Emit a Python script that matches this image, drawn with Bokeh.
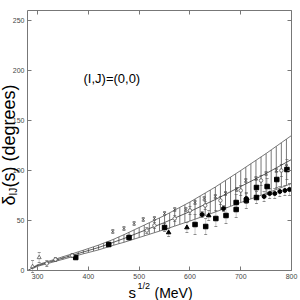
import numpy as np
from bokeh.plotting import figure
from bokeh.models import ColumnDataSource, Whisker, TeeHead, Label, LinearAxis, FixedTicker, Range1d
from bokeh.embed import file_html
from bokeh.resources import INLINE

# ---- data ----
x_ticks = [300, 400, 500, 600, 700, 800]
y_ticks = [0, 50, 100, 150, 200, 250]

band_x = [290, 300, 310, 320, 330, 340, 350, 360, 370, 380, 390, 400, 410, 420, 430, 440, 450,
          460, 470, 480, 490, 500, 510, 520, 530, 540, 550, 560, 570, 580, 590, 600, 610, 620,
          630, 640, 650, 660, 670, 680, 690, 700, 710, 720, 730, 740, 750, 760, 770, 780, 790, 800]
band_c = [2.5, 5, 6.5, 8, 9.5, 11, 12.5, 14, 15.5, 17, 18.5, 20, 21.5, 23, 24.8, 26.5, 28.3,
          30.2, 32, 34, 36, 38, 40, 42, 44, 46, 48, 50.2, 52.4, 54.6, 56.8, 59, 61.4, 63.8,
          66.2, 68.6, 71, 73.6, 76.2, 78.8, 81.4, 84, 86.6, 89.2, 91.8, 94.4, 97, 99.8, 102.6,
          105.4, 108.2, 111]
band_h = [0.5, 0.8, 0.9, 1, 1.1, 1.2, 1.3, 1.4, 1.5, 1.7, 1.8, 2, 2.2, 2.4, 2.6, 2.8, 3,
          3.4, 3.8, 4.2, 4.6, 5, 5.4, 5.8, 6.2, 6.6, 7, 7.5, 8, 8.5, 9, 9.5, 10.1, 10.7,
          11.3, 11.9, 12.5, 13.2, 13.9, 14.6, 15.3, 16, 16.8, 17.6, 18.4, 19.2, 20, 20.8, 21.6,
          22.4, 23.2, 24]

bow_x = [448, 470, 490, 508, 530, 550, 570, 592, 610, 628, 650, 670, 692, 710, 730, 750, 770, 790]
bow_y = [39, 42, 47, 51, 52, 57, 61, 61, 68, 72, 74, 77, 81, 90, 92, 97, 100, 104]
bow_e = [2, 2, 2, 2, 2, 2, 2, 2, 2, 2, 2, 2, 2, 2, 2, 2, 2, 2]

sq_x = [375, 440, 480, 550, 610, 631, 651, 671, 691, 691, 711, 731, 731, 752, 771, 791]
sq_y = [13, 26, 33, 43, 46, 44, 52, 55, 61, 68, 70, 73, 83, 84, 91, 101]
sq_e = [2, 2, 2, 4, 10, 8, 8, 8, 8, 8, 8, 6, 8, 8, 8, 10]

ci_x = [624, 666, 711, 746, 757, 767, 777, 787, 796]
ci_y = [56, 62, 72, 74, 77, 77, 79, 80, 81]
ci_e = [3, 3, 5, 5, 5, 5, 5, 5, 6]

tr_x = [558, 594, 637]
tr_y = [38, 43, 55]
tr_e = [4, 5, 5]

oc_x = [318, 335, 368, 515, 530, 570, 600, 630, 660, 700, 740, 780]
oc_y = [7, 11, 15, 40, 45, 52, 60, 65, 70, 80, 90, 100]
oc_e = [3, 2, 2, 3, 3, 3, 4, 4, 4, 5, 5, 6]

ot_x = [290, 303]
ot_y = [4, 13]
ot_e = [6, 5]

# ---- layout: frame covers the whole canvas, axes fixed at the data box ----
W = H = 300
X0, X1, Y0, Y1 = 280, 800, 0, 260
box_l, box_r, box_t, box_b = 27, 291, 10, 270          # pixel edges of the plot box
kx = (box_r - box_l) / (X1 - X0)
ky = (box_b - box_t) / (Y1 - Y0)
xr = Range1d(X0 - box_l / kx, X1 + (W - box_r) / kx)
yr = Range1d(Y0 - (H - box_b) / ky, Y1 + box_t / ky)


def sx(px):
    return X0 + (px - box_l) / kx


def sy(py):
    return Y0 + (box_b - py) / ky


p = figure(width=W, height=H, output_backend="svg", toolbar_location=None,
           x_range=xr, y_range=yr, x_axis_location=None, y_axis_location=None,
           min_border=0)
p.grid.visible = False
p.outline_line_color = None
p.background_fill_color = "white"
p.border_fill_color = "white"

axes = [("below", Y0, x_ticks, True, (X0, X1)),
        ("left", X0, y_ticks, True, (Y0, Y1)),
        ("above", Y1, x_ticks, False, (X0, X1)),
        ("right", X1, y_ticks, False, (Y0, Y1))]
for loc, fixed, ticks, labels, bounds in axes:
    ax = LinearAxis(ticker=FixedTicker(ticks=ticks), fixed_location=fixed, bounds=bounds,
                    major_tick_in=4, major_tick_out=0, minor_tick_line_color=None,
                    axis_line_color="#777777", major_tick_line_color="#777777",
                    major_label_text_font="Liberation Sans", major_label_text_font_size="7px",
                    major_label_text_color="#444444" if labels else None,
                    major_label_standoff=3)
    p.add_layout(ax, loc)

# band
bx = np.array(band_x, dtype=float)
bc = np.array(band_c)
bh = np.array(band_h)
p.segment(x0=bx, y0=bc - bh, x1=bx, y1=bc + bh, line_color="#555555", line_width=0.8)
p.line(bx, bc + bh, line_color="#555555", line_width=0.8)
p.line(bx, bc - bh, line_color="#555555", line_width=0.8)
p.line(np.concatenate([[X0], bx]), np.concatenate([[0], bc]), line_color="#333333", line_width=0.8)


def errs(xs, ys, es, dash="1 1"):
    src = ColumnDataSource(dict(x=xs, lo=[y - e for y, e in zip(ys, es)], hi=[y + e for y, e in zip(ys, es)]))
    w = Whisker(source=src, base="x", lower="lo", upper="hi", line_color="#666666",
                line_width=0.7, line_dash=dash,
                upper_head=TeeHead(size=3, line_color="#666666", line_width=0.7),
                lower_head=TeeHead(size=3, line_color="#666666", line_width=0.7))
    p.add_layout(w)


errs(bow_x, bow_y, bow_e, "solid")
errs(sq_x, sq_y, sq_e)
errs(ci_x, ci_y, ci_e)
errs(tr_x, tr_y, tr_e)
errs(oc_x, oc_y, oc_e)
errs(ot_x, ot_y, ot_e)

p.scatter(bow_x, bow_y, marker="x", size=4, line_color="#444444", line_width=0.8)
p.scatter(sq_x, sq_y, marker="square", size=4.5, fill_color="black", line_color="black")
p.scatter(ci_x, ci_y, marker="circle", size=4, fill_color="black", line_color="black")
p.scatter(tr_x, tr_y, marker="triangle", size=4.5, fill_color="black", line_color="black")
p.scatter(oc_x, oc_y, marker="circle", size=3.5, fill_color="white", line_color="#444444", line_width=0.7)
p.scatter(ot_x, ot_y, marker="triangle", size=4, fill_color="white", line_color="#444444", line_width=0.7)

# texts
p.add_layout(Label(x=sx(83), y=sy(78), text="(I,J)=(0,0)", text_font="Liberation Sans",
                   text_font_size="13px", text_baseline="middle", text_color="black"))

# y axis title, rotated (reads upward)
ang = np.pi / 2
p.add_layout(Label(x=sx(8), y=sy(205), text="δ", angle=ang, text_font="Liberation Sans",
                   text_font_size="18px", text_baseline="middle", text_color="black"))
p.add_layout(Label(x=sx(13), y=sy(195), text="IJ", angle=ang, text_font="Liberation Sans",
                   text_font_size="10px", text_baseline="middle", text_color="black"))
p.add_layout(Label(x=sx(8), y=sy(187), text="(s) (degrees)", angle=ang, text_font="Liberation Sans",
                   text_font_size="18px", text_baseline="middle", text_color="black"))

# x axis title
p.add_layout(Label(x=sx(128), y=sy(292), text="s", text_font="Liberation Sans",
                   text_font_size="15px", text_baseline="alphabetic", text_color="black"))
p.add_layout(Label(x=sx(137), y=sy(285), text="1/2", text_font="Liberation Sans",
                   text_font_size="9px", text_baseline="alphabetic", text_color="black"))
p.add_layout(Label(x=sx(154), y=sy(292), text="(MeV)", text_font="Liberation Sans",
                   text_font_size="14px", text_baseline="alphabetic", text_color="black"))

open("out.html", "w").write(file_html(p, INLINE))
